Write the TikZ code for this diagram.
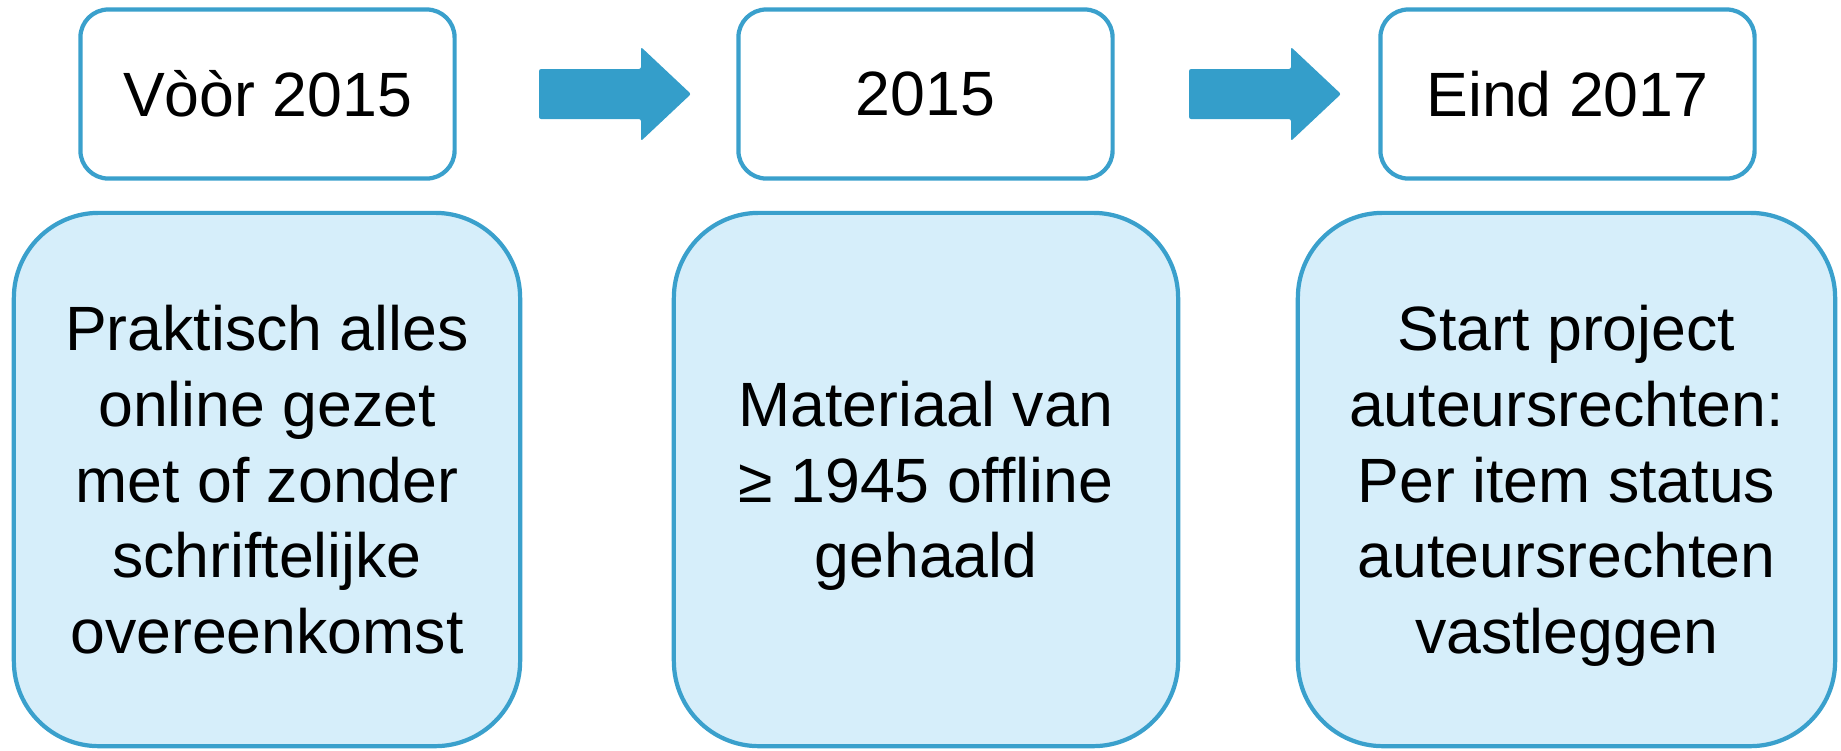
\documentclass[tikz,border=0pt]{standalone}
\usepackage{fontspec}
\setmainfont{Liberation Sans}
\usepackage{tikz}
\definecolor{boxline}{RGB}{58,160,204}
\definecolor{boxfill}{RGB}{214,238,250}
\definecolor{arrowblue}{RGB}{52,158,202}

\begin{document}
\begin{tikzpicture}[x=0.01cm,y=-0.01cm,
    yearbox/.style={rectangle,
          draw = boxline,
          line width = 1.2pt,
          fill = white,
          rounded corners = 0.28cm,
          minimum width = 3.74cm,
          minimum height = 1.69cm},
    infobox/.style={rectangle,
          draw = boxline,
          line width = 1.2pt,
          fill = boxfill,
          rounded corners = 0.85cm,
          minimum height = 5.33cm},
    steparrow/.style={fill = arrowblue,
          rounded corners = 0.6pt},
    every node/.append style={font=\fontsize{17.8pt}{21.5pt}\selectfont}]

    \useasboundingbox (0,0) rectangle (1841,750);

    % jaartallen
    \node[yearbox] (voor) at (267.5,94) {};
    \node[] at (voor.center) {Vòòr 2015};

    \node[yearbox] (jaar) at (925.5,94) {};
    \node[] at (jaar.center) {2015};

    \node[yearbox] (eind) at (1567.5,94) {};
    \node[] at (eind.center) {Eind 2017};

    % pijlen
    \coordinate (pijla) at (539,94);
    \coordinate (pijlb) at (1189,94);
    \foreach \p in {pijla,pijlb}
      \fill[steparrow] (\p) ++(0,-25) -- ++(102,0) -- ++(0,-22)
        -- ++(50,47) -- ++(-50,47) -- ++(0,-22) -- ++(-102,0) -- cycle;

    % toelichting
    \node[infobox,
          minimum width = 5.06cm
          ] (alles) at (267,479.5) {};
    \node[align=center, text depth=0pt] at (alles.center) {Praktisch alles\\online gezet\\met of zonder\\schriftelijke\\overeenkomst};

    \node[infobox,
          minimum width = 5.04cm
          ] (offline) at (926,479.5) {};
    \node[align=center, text depth=0pt] at (offline.center) {Materiaal van\\≥ 1945 offline\\gehaald};

    \node[infobox,
          minimum width = 5.37cm
          ] (rechten) at (1566.5,479.5) {};
    \node[align=center, text depth=0pt] at (rechten.center) {Start project\\auteursrechten:\\Per item status\\auteursrechten\\vastleggen};

\end{tikzpicture}
\end{document}
